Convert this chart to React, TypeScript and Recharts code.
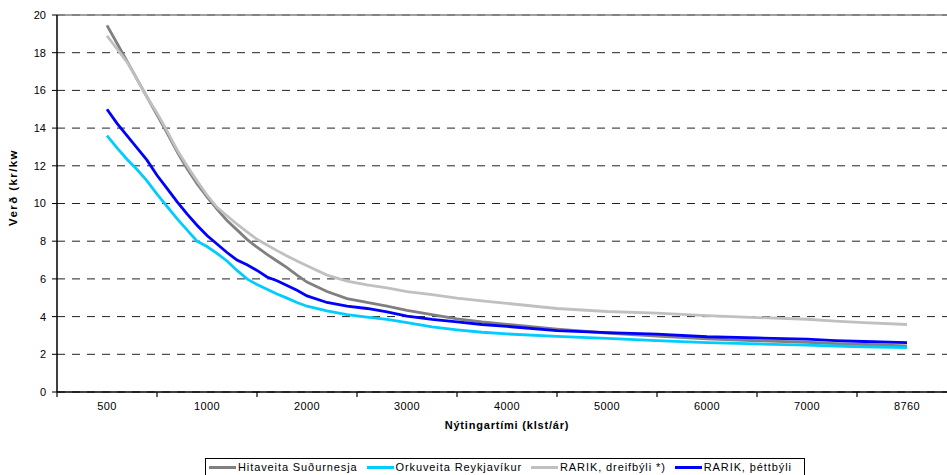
import { LineChart, Line, XAxis, YAxis, CartesianGrid, ReferenceLine } from 'recharts';

// Flokkar á x-ás (Excel category axis)
const CATEGORIES = [500, 1000, 2000, 3000, 4000, 5000, 6000, 7000, 8760];

const HOURS = [
  500, 550, 600, 650, 700, 750, 800, 850, 900, 950, 1000, 1100, 1200, 1300, 1400, 1500,
  1600, 1700, 1800, 1900, 2000, 2200, 2400, 2600, 2800, 3000, 3250, 3500, 3750, 4000,
  4500, 5000, 5500, 6000, 6500, 7000, 7500, 8000, 8760,
];

const HITAVEITA = [
  19.45, 18.5, 17.55, 16.6, 15.65, 14.7, 13.75, 12.75, 11.85, 11.05, 10.35, 9.7, 9.1, 8.6, 8.1, 7.68,
  7.3, 6.95, 6.6, 6.2, 5.83, 5.33, 4.95, 4.76, 4.55, 4.33, 4.1, 3.88, 3.72, 3.59,
  3.34, 3.13, 2.96, 2.82, 2.72, 2.64, 2.57, 2.52, 2.45,
];

const ORKUVEITA = [
  13.6, 12.95, 12.35, 11.8, 11.2, 10.5, 9.85, 9.2, 8.6, 8.0, 7.72, 7.35, 6.95, 6.45, 6.0, 5.7,
  5.45, 5.2, 4.98, 4.75, 4.55, 4.3, 4.1, 3.97, 3.85, 3.68, 3.45, 3.3, 3.17, 3.08,
  2.95, 2.85, 2.73, 2.62, 2.55, 2.49, 2.44, 2.4, 2.35,
];

const RARIK_DREIF = [
  18.9, 18.2, 17.5, 16.6, 15.65, 14.8, 13.85, 12.85, 12.0, 11.2, 10.45, 9.8, 9.35, 8.9, 8.5, 8.1,
  7.8, 7.5, 7.22, 6.95, 6.7, 6.2, 5.88, 5.68, 5.52, 5.33, 5.17, 4.98, 4.83, 4.7,
  4.43, 4.27, 4.18, 4.05, 3.95, 3.86, 3.76, 3.68, 3.58,
];

const RARIK_THETT = [
  15.0, 14.25, 13.6, 12.95, 12.3, 11.5, 10.8, 10.1, 9.45, 8.85, 8.3, 7.85, 7.4, 7.0, 6.75, 6.45,
  6.1, 5.9, 5.65, 5.4, 5.1, 4.75, 4.55, 4.43, 4.25, 4.02, 3.85, 3.72, 3.58, 3.48,
  3.26, 3.15, 3.07, 2.93, 2.87, 2.8, 2.73, 2.68, 2.62,
];

const Y_TICKS = [0, 2, 4, 6, 8, 10, 12, 14, 16, 18, 20];

const SERIES = [
  { key: 'hs', name: 'Hitaveita Suðurnesja', color: '#808080', values: HITAVEITA },
  { key: 'or', name: 'Orkuveita Reykjavíkur', color: '#00CCFF', values: ORKUVEITA },
  { key: 'rd', name: 'RARIK, dreifbýli *)', color: '#C0C0C0', values: RARIK_DREIF },
  { key: 'rt', name: 'RARIK, þéttbýli', color: '#0000FF', values: RARIK_THETT },
];

// staðsetning á flokkaás: miðja flokks i er i + 0.5
const toPos = (h: number) => {
  for (let i = 0; i < CATEGORIES.length - 1; i++) {
    const a = CATEGORIES[i];
    const b = CATEGORIES[i + 1];
    if (h <= b) return 0.5 + i + (h - a) / (b - a);
  }
  return CATEGORIES.length - 0.5;
};

const data = HOURS.map((h, i) => {
  const row: Record<string, number> = { pos: toPos(h) };
  SERIES.forEach(s => (row[s.key] = s.values[i]));
  return row;
});

// strik á flokkamörkum 0..9
const MARK_TICKS = CATEGORIES.map((_, i) => i).concat(CATEGORIES.length);

const FONT = 'Arial, "Liberation Sans", sans-serif';
const TICK_SIZE = 5;

// strik á flokkamörkum, texti í miðju flokks
const CategoryTick = (props: any) => {
  const { x, y, index, width } = props;
  const band = width / CATEGORIES.length;
  const label = CATEGORIES[index];
  return (
    <g>
      <line x1={x} x2={x} y1={y - TICK_SIZE} y2={y} stroke="#000" strokeWidth={1.2} />
      {label !== undefined && (
        <text
          x={x + band / 2}
          y={y + 5}
          dy="0.71em"
          textAnchor="middle"
          fill="#000"
          fontSize={11}
          fontFamily={FONT}
          letterSpacing={0.4}
        >
          {label}
        </text>
      )}
    </g>
  );
};

const YTitle = (props: any) => {
  const vb = props.viewBox || { x: 0, y: 0, height: 0 };
  const cx = vb.x + 13;
  const cy = vb.y + vb.height / 2 - 16;
  return (
    <text
      x={cx}
      y={cy}
      transform={`rotate(-90, ${cx}, ${cy})`}
      textAnchor="middle"
      dominantBaseline="central"
      fill="#000"
      fontSize={11.5}
      fontWeight="bold"
      fontFamily={FONT}
      letterSpacing={1.4}
    >
      Verð (kr/kw
    </text>
  );
};

export default function App() {
  return (
    <div
      style={{
        position: 'absolute',
        left: 0,
        top: 0,
        width: 947,
        height: 475,
        overflow: 'hidden',
        background: '#fff',
        fontFamily: FONT,
      }}
    >
      <LineChart width={960} height={475} data={data} margin={{ top: 15, right: 3, bottom: 38, left: 0 }}>
        <CartesianGrid horizontal vertical={false} stroke="#222" strokeDasharray="8 7" />
        <ReferenceLine y={20} stroke="#808080" strokeWidth={1.5} />
        <XAxis
          dataKey="pos"
          type="number"
          domain={[0, CATEGORIES.length]}
          ticks={MARK_TICKS}
          interval={0}
          tick={<CategoryTick />}
          tickSize={TICK_SIZE}
          tickMargin={0}
          tickLine={false}
          height={45}
          axisLine={{ stroke: '#000', strokeWidth: 1.5 }}
          label={{
            value: 'Nýtingartími (klst/ár)',
            position: 'insideBottom',
            offset: 8,
            style: { fill: '#000', fontSize: 11, fontWeight: 'bold', fontFamily: FONT, letterSpacing: 0.8 },
          }}
          allowDataOverflow
        />
        <YAxis
          domain={[0, 20]}
          ticks={Y_TICKS}
          width={57}
          tickSize={5}
          tickMargin={6}
          axisLine={{ stroke: '#000', strokeWidth: 1.5 }}
          tickLine={{ stroke: '#000' }}
          tick={{ fill: '#000', fontSize: 11, fontFamily: FONT }}
          label={<YTitle />}
        />
        {SERIES.map(s => (
          <Line
            key={s.key}
            dataKey={s.key}
            name={s.name}
            type="linear"
            stroke={s.color}
            strokeWidth={2.8}
            dot={false}
            isAnimationActive={false}
          />
        ))}
      </LineChart>
      <div
        style={{
          position: 'absolute',
          top: 458,
          left: 205,
          height: 16,
          border: '1px solid #000',
          borderBottom: 'none',
          display: 'flex',
          alignItems: 'center',
          padding: '0 3px 0 3px',
          fontSize: 11,
          letterSpacing: 0.9,
          whiteSpace: 'nowrap',
          color: '#000',
        }}
      >
        {SERIES.map(s => (
          <div key={s.key} style={{ display: 'flex', alignItems: 'center', marginRight: 9 }}>
            <span style={{ display: 'inline-block', width: 27, height: 3, background: s.color, marginRight: 2 }} />
            <span>{s.name}</span>
          </div>
        ))}
      </div>
    </div>
  );
}
